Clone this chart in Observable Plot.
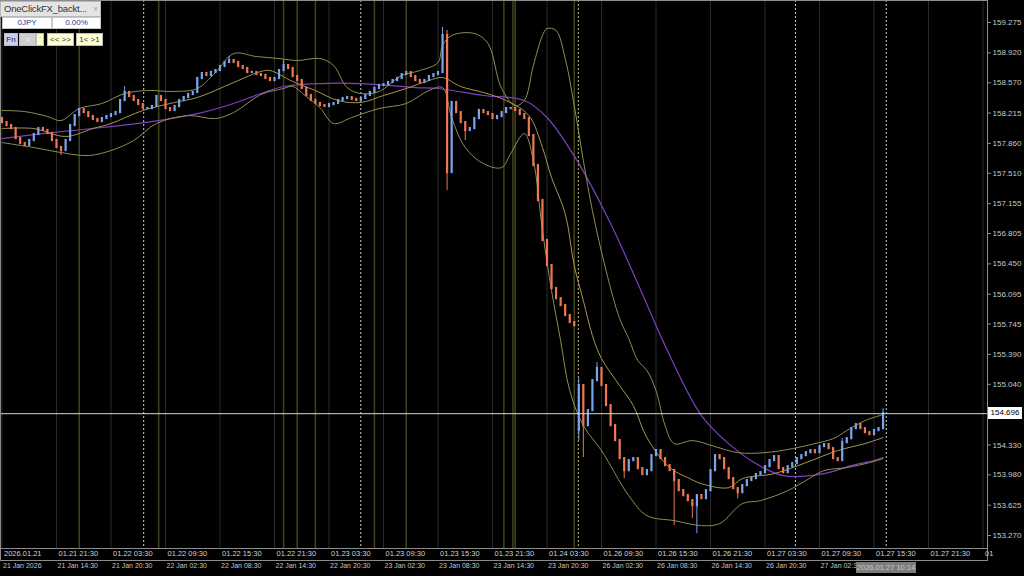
<!DOCTYPE html>
<html>
<head>
<meta charset="utf-8">
<script src="https://cdn.jsdelivr.net/npm/d3@7"></script>
<script src="https://cdn.jsdelivr.net/npm/@observablehq/plot@0.6"></script>
<style>
  body { margin: 0; background: #000; }
  #wrap { position: relative; width: 1024px; height: 576px; overflow: hidden; background: #000; font-family: "Liberation Sans", Arial, sans-serif; }
  #chart svg { display: block; }
  .abs { position: absolute; box-sizing: border-box; }
  .ttl { left: 0; top: 1px; width: 101px; height: 16px; background: #e4e4e4; border: 1px solid #b8b8b8; color: #333; font-size: 9.5px; line-height: 14px; padding-left: 3px; white-space: nowrap; letter-spacing: -0.2px; }
  .ttl span { position: absolute; right: 2px; top: 0; color: #aaa; font-size: 9px; }
  .cell { top: 17px; height: 12px; background: #fff; border: 1px solid #c8c8c8; color: #2b3a8c; font-size: 8px; line-height: 10px; text-align: center; }
  .btn { top: 33px; height: 13px; font-size: 8px; line-height: 12px; text-align: center; border: 1px solid #bdbdbd; color: #333; }
  #timebox { left: 0; top: 548px; width: 988px; height: 13px; border: 1px solid #8c8c8c; }
  #nowbox { left: 856px; top: 562px; width: 60px; height: 11px; background: #7c7c7c; color: #c8c8c8; font-size: 7.5px; line-height: 11px; text-align: center; }
  #bidbox { left: 988px; width: 34px; height: 12px; background: #fff; color: #000; font-size: 8px; line-height: 12px; text-align: center; }
</style>
</head>
<body>
<div id="wrap">
  <div id="chart"></div>
  <div class="abs" id="timebox"></div>
  <div class="abs" id="nowbox">2026.01.27 10:14</div>
  <div class="abs" id="bidbox"></div>
  <div class="abs ttl">OneClickFX_backt...<span>×</span></div>
  <div class="abs cell" style="left:2px;width:50px">0JPY</div>
  <div class="abs cell" style="left:52px;width:49px">0.00%</div>
  <div class="abs btn" style="left:4px;width:14px;background:#c9cdf0;color:#223">Fn</div>
  <div class="abs btn" style="left:19px;width:17px;background:#cfcfcf;color:#fff">&gt;</div>
  <div class="abs btn" style="left:36px;width:8px;background:#ffffc8;color:#aa9">'</div>
  <div class="abs btn" style="left:47px;width:27px;background:#ffffd8">&lt;&lt; &gt;&gt;</div>
  <div class="abs btn" style="left:76px;width:27px;background:#ffffd8">1&lt; &gt;1</div>
</div>
<script>
// USDJPY 30分足 (bar index 0 = 21 Jan 08:30)
const closes = [
  158.104,158.069,158.034,157.917,157.859,157.835,157.894,157.964,158.034,158.011,
  157.976,157.894,157.812,157.777,157.894,158.069,158.186,158.257,158.221,158.175,
  158.140,158.116,158.151,158.175,158.198,158.221,158.362,158.456,158.409,158.362,
  158.315,158.268,158.268,158.292,158.409,158.362,158.268,158.245,158.292,158.362,
  158.397,158.432,158.456,158.620,158.678,158.655,158.690,158.713,158.760,158.807,
  158.830,158.807,158.760,158.737,158.690,158.690,158.666,158.655,158.620,158.596,
  158.620,158.713,158.772,158.737,158.643,158.596,158.503,158.421,158.362,158.327,
  158.303,158.292,158.315,158.327,158.362,158.385,158.397,158.374,158.362,158.385,
  158.421,158.456,158.503,158.538,158.549,158.573,158.596,158.620,158.666,158.690,
  158.643,158.596,158.573,158.596,158.643,158.666,158.690,159.123,157.519,158.339,
  158.221,158.104,158.011,158.034,158.151,158.245,158.221,158.198,158.151,158.175,
  158.221,158.268,158.268,158.245,158.198,158.151,157.952,157.601,157.191,156.723,
  156.430,156.161,156.043,155.962,155.845,155.763,155.727,155.025,154.556,154.732,
  155.083,155.224,155.025,154.791,154.556,154.381,154.170,154.030,154.147,154.170,
  154.053,153.983,154.030,154.205,154.264,154.170,154.088,154.030,153.913,153.795,
  153.737,153.678,153.620,153.737,153.702,153.795,154.030,154.205,154.170,154.053,
  153.936,153.819,153.772,153.854,153.913,153.936,153.983,154.006,154.076,154.147,
  154.194,154.053,154.006,154.076,154.112,154.170,154.205,154.240,154.264,154.240,
  154.311,154.334,154.287,154.170,154.147,154.357,154.404,154.521,154.568,154.521,
  154.474,154.451,154.498,154.521,154.696
]
const firstOpen = 158.151
const gapBars = [127]
const gapOpens = [154.498]

// velas con mecha visible
const wickBars  = [13, 27, 50, 62, 97, 98, 102, 127, 128, 131, 137, 148, 152, 153, 162, 185, 194]
const wickHighs = [null, 158.526, 158.877, 158.830, 159.217, 159.182, null, 155.107, null, 155.294, null, null, null, null, null, 154.404, 154.755]
const wickLows  = [157.718, null, null, null, null, 157.308, 157.894, 154.381, 154.182, null, 153.936, 153.386, 153.468, 153.292, 153.700, null, null]

// Bollinger
const upperBars = [0,5,10,13,17,22,27,32,38,43,47,51,56,61,65,70,73,76,79,83,88,92,96,97,99,104,107,110,113,115,117,119,120,122,124,126,128,130,133,136,138,140,142,144,146,148,152,157,162,168,174,179,183,186,190,194]
const upperVals = [158.245,158.233,158.175,158.128,158.268,158.327,158.444,158.479,158.468,158.503,158.690,158.912,158.877,158.854,158.830,158.854,158.772,158.514,158.444,158.467,158.655,158.713,158.807,159.006,159.123,159.147,159.029,158.503,158.303,158.362,158.772,159.123,159.205,159.182,158.854,158.303,157.659,157.074,156.371,155.809,155.575,155.318,155.201,154.967,154.557,154.346,154.381,154.311,154.240,154.240,154.287,154.346,154.404,154.498,154.615,154.685]
const middleBars = [0,7,14,20,24,31,38,43,51,57,59,64,69,74,79,84,89,94,97,101,106,111,116,119,121,124,126,128,130,132,136,139,142,147,151,154,160,163,170,177,184,190,194]
const middleVals = [158.034,158.034,157.941,158.034,158.093,158.245,158.339,158.397,158.573,158.702,158.713,158.585,158.479,158.362,158.339,158.421,158.503,158.596,158.631,158.526,158.456,158.362,158.186,157.812,157.460,157.039,156.430,156.020,155.610,155.341,155.025,154.791,154.416,154.065,153.948,153.877,153.830,153.936,153.994,154.123,154.264,154.346,154.416]
const lowerBars = [0,7,13,19,24,29,34,41,47,51,57,62,64,67,70,73,77,83,89,94,97,99,102,106,110,112,115,117,119,121,123,125,128,132,138,142,148,154,158,163,167,173,177,181,186,191,194]
const lowerVals = [157.870,157.812,157.753,157.718,157.777,157.894,158.093,158.186,158.151,158.221,158.432,158.503,158.526,158.409,158.280,158.093,158.163,158.268,158.327,158.479,158.514,158.163,157.812,157.624,157.577,157.741,157.976,157.659,156.840,156.137,155.552,154.967,154.557,154.264,153.737,153.503,153.444,153.386,153.409,153.643,153.678,153.795,153.913,154.030,154.065,154.123,154.170]
// media móvil larga (violeta)
const purpleBars = [0,11,22,33,44,51,57,62,70,79,91,96,106,115,120,127,134,140,146,154,160,166,172,181,187,192,194]
const purpleVals = [157.917,157.987,158.046,158.116,158.221,158.327,158.444,158.526,158.561,158.561,158.514,158.503,158.421,158.362,158.163,157.624,156.922,156.219,155.493,154.674,154.346,154.112,153.971,153.994,154.088,154.147,154.182]

const bidPrice = 154.696
const priceTicks = [159.275,158.920,158.570,158.215,157.860,157.510,157.155,156.805,156.450,156.095,155.745,155.390,155.040,154.330,153.980,153.625,153.270]

// eje de tiempo: una marca cada 6 horas (12 velas)
const tickBars = [0,12,24,36,48,60,72,84,96,108,120,132,144,156,168,180,192,204,216]
const serverLabels = ["2026.01.21","01.21 21:30","01.22 03:30","01.22 09:30","01.22 15:30","01.22 21:30","01.23 03:30","01.23 09:30","01.23 15:30","01.23 21:30","01.24 03:30","01.26 09:30","01.26 15:30","01.26 21:30","01.27 03:30","01.27 09:30","01.27 15:30","01.27 21:30","01"]
const localBars = [0,12,24,36,48,60,72,84,96,108,120,132,144,156,168,180]
const localLabels = ["21 Jan 2026","21 Jan 14:30","21 Jan 20:30","22 Jan 02:30","22 Jan 08:30","22 Jan 14:30","22 Jan 20:30","23 Jan 02:30","23 Jan 08:30","23 Jan 14:30","23 Jan 20:30","26 Jan 02:30","26 Jan 08:30","26 Jan 14:30","26 Jan 20:30","27 Jan 02:30"]

// líneas verticales de eventos
const oliveBars = [17, 34.5, 62, 65, 69, 82, 89, 110.5, 112.5, 113, 126]
const dayBars = [31.2, 79, 174.7, 194.7]
const weekBars = [126.9]

const bars = closes.map((c, i) => {
  const g = gapBars.indexOf(i)
  const o = i === 0 ? firstOpen : (g >= 0 ? gapOpens[g] : closes[i - 1])
  const w = wickBars.indexOf(i)
  const hi = w >= 0 && wickHighs[w] != null ? wickHighs[w] : Math.max(o, c)
  const lo = w >= 0 && wickLows[w] != null ? wickLows[w] : Math.min(o, c)
  return {i, o, c, hi, lo, up: c >= o}
})
const toLine = (bs, vs) => bs.map((b, k) => ({b, v: vs[k]}))
const upper = toLine(upperBars, upperVals)
const middle = toLine(middleBars, middleVals)
const lower = toLine(lowerBars, lowerVals)
const purple = toLine(purpleBars, purpleVals)

const bull = '#7aa4ee'
const bear = '#ef7852'

let chart = Plot.plot({
  width: 1024,
  height: 576,
  marginLeft: 0,
  marginTop: 0,
  marginRight: 37,
  marginBottom: 28,
  style: {background: '#000', color: '#c4c4c4', fontFamily: '"Liberation Sans", Arial, sans-serif'},
  x: {domain: [-0.33, 216.99], axis: null},
  y: {domain: [153.118, 159.533], axis: null},
  marks: [
    Plot.ruleX(tickBars, {stroke: '#2a2a2a', strokeWidth: 1}),
    Plot.ruleX(oliveBars, {stroke: '#3f3f1a', strokeWidth: 1.6}),
    Plot.ruleX(dayBars, {stroke: '#d0d0d0', strokeDasharray: '2,2'}),
    Plot.ruleX(weekBars, {stroke: '#c2c25a', strokeDasharray: '2,2'}),
    Plot.line(purple, {x: 'b', y: 'v', stroke: '#7e3fc0', strokeWidth: 1.2, curve: 'catmull-rom'}),
    Plot.line(upper, {x: 'b', y: 'v', stroke: '#8e8e52', strokeWidth: 1, curve: 'catmull-rom'}),
    Plot.line(lower, {x: 'b', y: 'v', stroke: '#8e8e52', strokeWidth: 1, curve: 'catmull-rom'}),
    Plot.line(middle, {x: 'b', y: 'v', stroke: '#a89650', strokeWidth: 1, curve: 'catmull-rom'}),
    Plot.ruleX(bars, {x: 'i', y1: 'lo', y2: 'hi', stroke: d => d.up ? bull : bear, strokeWidth: 1}),
    Plot.ruleX(bars, {x: 'i', y1: 'o', y2: 'c', stroke: d => d.up ? bull : bear, strokeWidth: 2.2, strokeLinecap: 'square'}),
    Plot.ruleY([bidPrice], {stroke: '#d8d8d8', strokeWidth: 1}),
    Plot.frame({stroke: '#8c8c8c'}),
    Plot.axisY(priceTicks, {anchor: 'right', tickSize: 3, tickPadding: 2, tickFormat: d3.format('.3f'), fontSize: 8, label: null, stroke: '#8c8c8c', fill: '#c8c8c8'}),
    Plot.axisX(tickBars, {anchor: 'bottom', tickSize: 0, tickPadding: 2, textAnchor: 'start', dx: 2, fontSize: 7.5, fill: '#d0d0d0', label: null,
      tickFormat: d => serverLabels[tickBars.indexOf(d)]}),
    Plot.axisX(localBars, {anchor: 'bottom', tickSize: 0, tickPadding: 15, textAnchor: 'start', dx: 1, fontSize: 7, fill: '#c4c4c4', label: null,
      tickFormat: d => localLabels[localBars.indexOf(d)]})
  ]
})
d3.select('#chart').append(() => chart)

// etiqueta del precio actual
const yb = chart.scale('y').apply(bidPrice)
d3.select('#bidbox').style('top', (yb - 6) + 'px').text(d3.format('.3f')(bidPrice))
</script>
</body>
</html>
